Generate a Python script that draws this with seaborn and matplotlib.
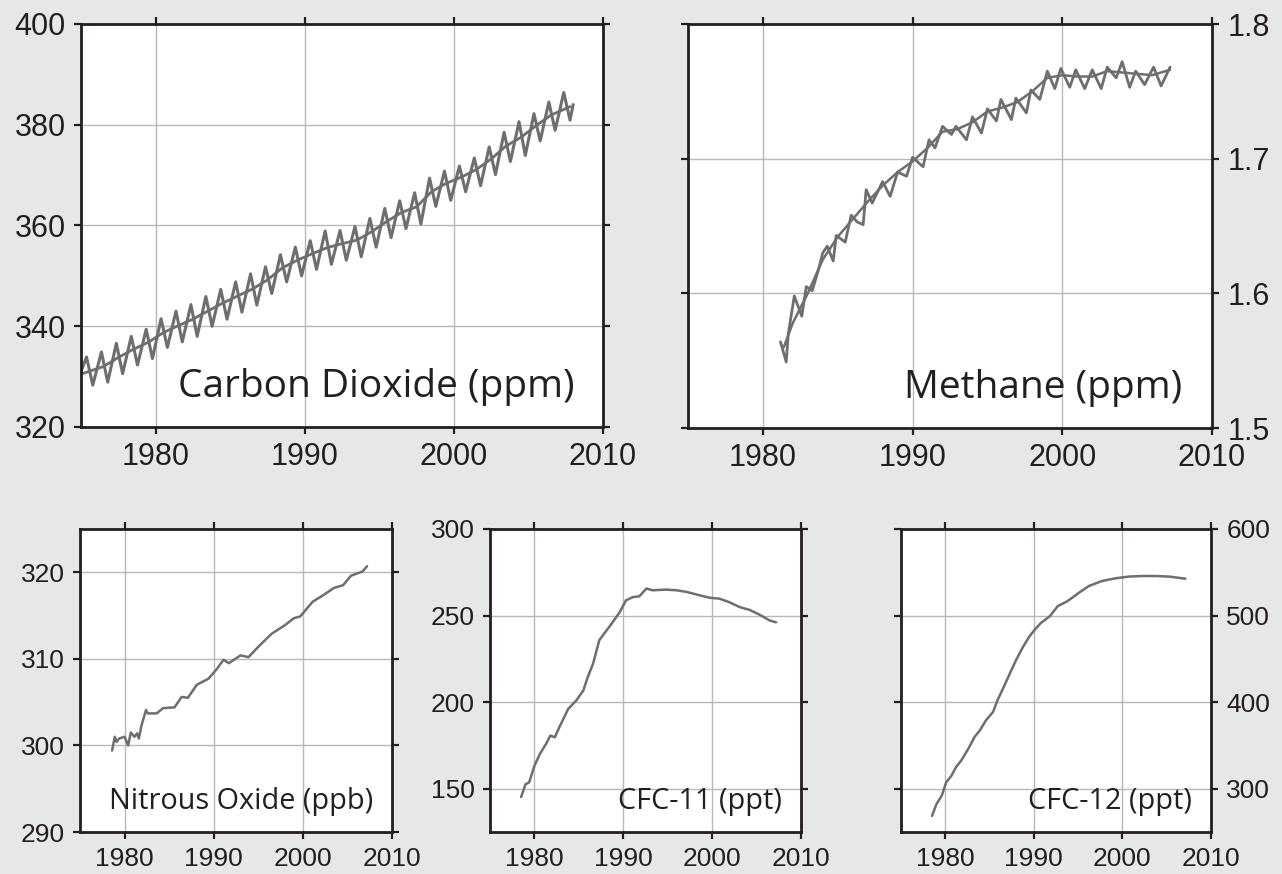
import pandas as pd
import matplotlib
matplotlib.use("Agg")
import matplotlib.pyplot as plt
import seaborn as sns

# ---- data ----
# Carbon dioxide (ppm): seasonal peak (May) and trough (Oct) per year, plus trend
co2_years = list(range(1975, 2008))
co2_peak = [333.9, 334.9, 336.6, 338.0, 339.4, 341.5, 343.0, 344.3, 345.9, 347.3,
            348.8, 350.4, 351.8, 354.2, 355.7, 357.0, 358.9, 359.0, 359.8, 361.4,
            363.4, 364.9, 366.5, 369.4, 370.8, 371.8, 373.4, 375.6, 378.5, 380.6,
            382.2, 384.5, 386.4]
co2_trough = [328.3, 328.9, 330.6, 332.3, 333.6, 335.8, 336.9, 338.0, 340.0, 341.4,
              342.8, 344.2, 346.5, 348.8, 350.0, 351.3, 352.3, 353.1, 353.8, 355.7,
              357.6, 359.4, 360.3, 363.8, 365.0, 366.7, 367.9, 370.1, 372.7, 373.9,
              376.8, 378.9, 380.9]
co2_start = (1975.0, 331.0)
co2_end = (2008.0, 384.0)
co2_trend_t = [1975.0, 1976.5, 1977.5, 1978.5, 1979.5, 1980.5, 1981.5, 1982.5, 1983.5,
               1984.5, 1985.5, 1986.5, 1987.5, 1988.5, 1989.5, 1990.5, 1991.5, 1992.5,
               1993.5, 1994.5, 1995.5, 1996.5, 1997.5, 1998.5, 1999.5, 2000.5, 2001.5,
               2002.5, 2003.5, 2004.5, 2005.5, 2006.5, 2007.8]
co2_trend = [330.5, 332.0, 333.8, 335.4, 336.8, 338.7, 340.1, 341.4, 343.0, 344.6,
             346.0, 347.4, 349.2, 351.6, 353.1, 354.4, 355.6, 356.4, 357.1, 358.8,
             360.8, 362.6, 363.7, 366.7, 368.4, 369.6, 371.1, 373.2, 375.8, 377.5,
             379.8, 381.9, 383.6]

# Methane (ppm)
ch4_t = [1981.18, 1981.56, 1981.7, 1982.1, 1982.6, 1982.9, 1983.3, 1983.7, 1984.0, 1984.3,
         1984.7, 1984.9, 1985.5, 1985.9, 1986.3, 1986.7, 1986.9, 1987.3, 1988.0, 1988.5,
         1989.0, 1989.6, 1990.0, 1990.7, 1991.1, 1991.5, 1992.0, 1992.6, 1992.9, 1993.6,
         1994.0, 1994.6, 1995.0, 1995.6, 1995.9, 1996.6, 1996.9, 1997.6, 1997.9, 1998.5,
         1999.0, 1999.5, 1999.9, 2000.5, 2000.9, 2001.5, 2002.0, 2002.6, 2003.0, 2003.6,
         2004.0, 2004.5, 2004.9, 2005.5, 2006.1, 2006.6, 2007.2]
ch4 = [1.564, 1.549, 1.570, 1.598, 1.583, 1.605, 1.602, 1.617, 1.630, 1.635,
       1.624, 1.643, 1.638, 1.658, 1.653, 1.651, 1.677, 1.667, 1.683, 1.672,
       1.690, 1.687, 1.701, 1.694, 1.714, 1.708, 1.724, 1.718, 1.724, 1.714,
       1.731, 1.719, 1.737, 1.728, 1.744, 1.729, 1.745, 1.734, 1.751, 1.744,
       1.765, 1.752, 1.767, 1.753, 1.766, 1.752, 1.766, 1.752, 1.768, 1.760,
       1.772, 1.753, 1.765, 1.755, 1.768, 1.754, 1.768]
ch4_trend_t = [1981.4, 1982.0, 1983.0, 1984.0, 1985.0, 1986.0, 1987.0, 1988.0, 1989.0,
               1990.0, 1991.0, 1992.0, 1993.0, 1994.0, 1995.0, 1996.0, 1997.0, 1998.0,
               1999.0, 2000.0, 2001.0, 2002.0, 2003.0, 2004.0, 2005.0, 2006.0, 2007.2]
ch4_trend = [1.560, 1.578, 1.600, 1.625, 1.642, 1.655, 1.668, 1.680, 1.690,
             1.698, 1.708, 1.720, 1.722, 1.727, 1.735, 1.738, 1.742, 1.750,
             1.760, 1.762, 1.761, 1.761, 1.765, 1.764, 1.763, 1.762, 1.766]

# Nitrous oxide (ppb)
n2o_t = [1978.6, 1978.9, 1979.1, 1979.4, 1980.0, 1980.4, 1980.7, 1981.1, 1981.4, 1981.6,
         1981.9, 1982.4, 1982.6, 1983.6, 1984.3, 1985.6, 1986.4, 1987.1, 1988.1, 1989.4,
         1990.0, 1990.4, 1991.1, 1991.7, 1993.0, 1993.9, 1995.2, 1996.5, 1998.0, 1999.0,
         1999.7, 2001.1, 2002.2, 2003.5, 2004.5, 2005.4, 2006.7, 2007.2]
n2o = [299.4, 301.0, 300.4, 300.8, 301.0, 300.0, 301.5, 301.0, 301.4, 300.8,
       302.3, 304.1, 303.7, 303.7, 304.3, 304.4, 305.6, 305.5, 307.0, 307.7,
       308.4, 308.9, 309.9, 309.5, 310.4, 310.2, 311.6, 312.9, 313.9, 314.7,
       314.9, 316.6, 317.3, 318.2, 318.5, 319.6, 320.1, 320.7]

# CFC-11 (ppt)
cfc11_t = [1978.5, 1979.0, 1979.4, 1980.0, 1980.6, 1981.3, 1981.8, 1982.3, 1982.8, 1983.8,
           1984.7, 1985.5, 1986.0, 1986.6, 1987.3, 1988.1, 1988.8, 1989.6, 1990.3, 1991.1,
           1991.8, 1992.6, 1993.3, 1994.8, 1996.0, 1997.1, 1998.6, 1999.7, 2000.8, 2001.9,
           2003.1, 2004.2, 2005.3, 2006.5, 2007.2]
cfc11 = [145.2, 152.6, 153.6, 163.2, 170.0, 175.8, 180.7, 179.7, 185.5, 196.1,
         200.9, 206.7, 214.5, 222.2, 235.8, 241.3, 246.1, 252.0, 258.8, 260.7,
         261.1, 265.6, 264.6, 265.0, 264.6, 263.7, 261.7, 260.3, 259.8, 257.8,
         254.9, 253.3, 250.6, 247.1, 246.1]

# CFC-12 (ppt)
cfc12_t = [1978.5, 1979.0, 1979.6, 1980.1, 1980.7, 1981.2, 1981.8, 1982.6, 1983.3, 1983.9,
           1984.6, 1985.4, 1985.9, 1986.7, 1987.3, 1988.0, 1988.8, 1989.5, 1990.1, 1990.8,
           1991.8, 1992.7, 1993.8, 1995.1, 1996.2, 1997.7, 1999.2, 2000.7, 2002.2, 2003.8,
           2005.3, 2007.1]
cfc12 = [268.6, 282.2, 291.9, 307.4, 315.1, 324.8, 332.6, 346.1, 359.7, 367.4,
         379.1, 388.8, 402.3, 419.8, 433.3, 448.8, 464.3, 475.9, 483.7, 491.5,
         499.2, 510.9, 516.7, 526.4, 534.1, 540.0, 543.0, 545.0, 545.7, 545.7,
         545.0, 542.6]

xticks = [1980, 1990, 2000, 2010]

# ---- build the seasonal CO2 zigzag from the peak/trough readings ----
co2_t = [co2_start[0]]
co2_v = [co2_start[1]]
for yr, pk, tr in zip(co2_years, co2_peak, co2_trough):
    co2_t += [yr + 0.37, yr + 0.79]
    co2_v += [pk, tr]
co2_t.append(co2_end[0])
co2_v.append(co2_end[1])

df_co2 = pd.DataFrame({"t": co2_t, "v": co2_v})
df_co2_trend = pd.DataFrame({"t": co2_trend_t, "v": co2_trend})
df_ch4 = pd.DataFrame({"t": ch4_t, "v": ch4})
df_ch4_trend = pd.DataFrame({"t": ch4_trend_t, "v": ch4_trend})
df_n2o = pd.DataFrame({"t": n2o_t, "v": n2o})
df_cfc11 = pd.DataFrame({"t": cfc11_t, "v": cfc11})
df_cfc12 = pd.DataFrame({"t": cfc12_t, "v": cfc12})

# ---- style ----
bg = "#e6e7e8"
line_col = "#6d6e71"
spine_col = "#231f20"
grid_col = "#b7b8ba"

sns.set_style("white")
plt.rcParams["font.family"] = ["Liberation Sans", "DejaVu Sans"]

fig = plt.figure(figsize=(12.82, 8.74), dpi=100)
fig.patch.set_facecolor(bg)

W, H = 1282, 874


def make_ax(left, top, right, bottom):
    return fig.add_axes([left / W, 1 - bottom / H, (right - left) / W, (bottom - top) / H])


ax_co2 = make_ax(81, 24, 603, 427)
ax_ch4 = make_ax(688, 24, 1212, 428)
ax_n2o = make_ax(80, 529, 392, 832)
ax_c11 = make_ax(490, 529, 801, 832)
ax_c12 = make_ax(901, 529, 1211, 832)


def style_ax(ax, ylim, yticks, big, right_labels=False):
    ax.set_xlim(1975, 2010)
    ax.set_ylim(*ylim)
    ax.set_xticks(xticks)
    ax.set_yticks(yticks)
    ax.set_facecolor("white")
    ax.grid(True, color=grid_col, linewidth=1.0)
    ax.set_axisbelow(True)
    for sp in ax.spines.values():
        sp.set_visible(True)
        sp.set_color(spine_col)
        sp.set_linewidth(2.0)
    size = 22 if big else 19
    ax.tick_params(axis="both", which="major", direction="out", length=5, width=1.6,
                   color=spine_col, labelsize=size, labelcolor=spine_col,
                   top=True, right=True, bottom=True, left=True, pad=6)
    ax.tick_params(axis="y", labelleft=not right_labels, labelright=right_labels)
    ax.set_xlabel("")
    ax.set_ylabel("")


def label(ax, text, size, x=0.945):
    ax.text(x, 0.075, text, transform=ax.transAxes, ha="right", va="baseline",
            fontsize=size, color=spine_col, family=["Open Sans", "DejaVu Sans"])


# CO2
sns.lineplot(data=df_co2, x="t", y="v", ax=ax_co2, color=line_col, linewidth=2.2,
             sort=False, estimator=None)
sns.lineplot(data=df_co2_trend, x="t", y="v", ax=ax_co2, color=line_col, linewidth=2.0,
             estimator=None)
style_ax(ax_co2, (320, 400), [320, 340, 360, 380, 400], True)
ax_co2.set_yticklabels(["320", "340", "360", "380", "400"])
label(ax_co2, "Carbon Dioxide (ppm)", 28)

# Methane
sns.lineplot(data=df_ch4, x="t", y="v", ax=ax_ch4, color=line_col, linewidth=2.0,
             sort=False, estimator=None)
sns.lineplot(data=df_ch4_trend, x="t", y="v", ax=ax_ch4, color=line_col, linewidth=1.8,
             estimator=None)
style_ax(ax_ch4, (1.5, 1.8), [1.5, 1.6, 1.7, 1.8], True, right_labels=True)
ax_ch4.set_yticklabels(["1.5", "1.6", "1.7", "1.8"])
label(ax_ch4, "Methane (ppm)", 28, x=0.943)

# N2O
sns.lineplot(data=df_n2o, x="t", y="v", ax=ax_n2o, color=line_col, linewidth=1.8,
             sort=False, estimator=None)
style_ax(ax_n2o, (290, 325), [290, 300, 310, 320], False)
label(ax_n2o, "Nitrous Oxide (ppb)", 20.8, x=0.94)

# CFC-11
sns.lineplot(data=df_cfc11, x="t", y="v", ax=ax_c11, color=line_col, linewidth=1.8,
             sort=False, estimator=None)
style_ax(ax_c11, (125, 300), [150, 200, 250, 300], False)
label(ax_c11, "CFC-11 (ppt)", 20.8, x=0.94)

# CFC-12
sns.lineplot(data=df_cfc12, x="t", y="v", ax=ax_c12, color=line_col, linewidth=1.8,
             sort=False, estimator=None)
style_ax(ax_c12, (250, 600), [300, 400, 500, 600], False, right_labels=True)
label(ax_c12, "CFC-12 (ppt)", 20.8, x=0.94)

fig.savefig("out.png", dpi=100, facecolor=bg)
